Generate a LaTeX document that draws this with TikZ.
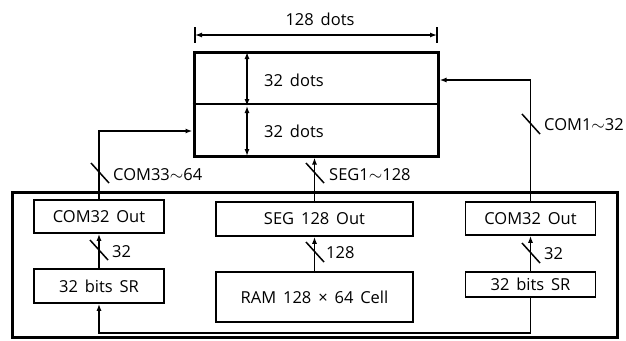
\documentclass[tikz,border=0pt]{standalone}
\usepackage{fontspec}
\setmainfont{Open Sans}[WordSpace=1.6]
\usetikzlibrary{positioning, arrows.meta, calc}

\begin{document}
\begin{tikzpicture}[x=1pt, y=-1pt,
    every node/.style={font=\fontsize{16.5}{19}\selectfont},
    blk/.style={draw, line width=1.5pt, inner sep=0pt},
    wire/.style={line width=1.5pt},
    bus/.style={wire, -{Latex[length=7pt, width=5pt]}},
    dim/.style={line width=1.3pt, {Latex[length=7pt, width=5pt]}-{Latex[length=7pt, width=5pt]}},
    lbl/.style={anchor=west, inner sep=0pt}]
    \useasboundingbox (0,0) rectangle (626,340);
    % Painel de pontos
    \node[draw, line width=3pt, minimum width=244pt, minimum height=104pt] (panel) at (316,104) {};
    \draw[line width=1.2pt] (panel.west) -- (panel.east);
    \node[lbl] (rowa) at (264,80) {32 dots};
    \node[lbl] (rowb) at (264,131) {32 dots};
    \coordinate (ya) at (247,52);
    \coordinate (yb) at (247,106);
    \coordinate (yc) at (247,156);
    \draw[dim] (ya) -- (yb);
    \draw[dim] (yb) -- (yc);
    % Cota de 128 pontos
    \coordinate (xa) at (195,35);
    \coordinate (xb) at (437,35);
    \draw[dim] (xa) -- (xb);
    \draw[line width=1.3pt] ($(xa)+(0,-8)$) -- ($(xa)+(0,8)$);
    \draw[line width=1.3pt] ($(xb)+(0,-8)$) -- ($(xb)+(0,8)$);
    \node (largura) at (320,19) {128 dots};
    % Controlador
    \node[draw, line width=3pt, minimum width=605pt, minimum height=145pt] (chip) at (314.5,264.5) {};
    \node[blk, minimum width=130pt, minimum height=33pt] (comL) at (99,216.5) {COM32 Out};
    \node[blk, minimum width=130pt, minimum height=34pt] (srL) at (99,286) {32 bits SR};
    \node[blk, minimum width=197pt, minimum height=34pt] (seg) at (314.5,219) {SEG 128 Out};
    \node[blk, minimum width=197pt, minimum height=50pt] (ram) at (314.5,297) {RAM 128 × 64 Cell};
    \node[blk, minimum width=130pt, minimum height=33pt] (comR) at (530.5,218.5) {COM32 Out};
    \node[blk, minimum width=130pt, minimum height=25pt] (srR) at (530.5,284.5) {32 bits SR};
    % Barramentos
    \draw[bus] (comL.north) |- (panel.west |- 0,131);
    \draw[bus] (seg.north) -- (seg.north |- panel.south);
    \draw[bus] (comR.north) |- (panel.east |- 0,80);
    \draw[bus] (srL.north) -- (comL.south);
    \draw[bus] (ram.north) -- (seg.north |- seg.south);
    \draw[bus] (srR.north) -- (comR.south);
    \draw[bus] (srR.south) -- ++(0,35) -| (srL.south);
    % Marcas de largura do barramento
    \foreach \px/\py in {100/173, 315/173, 531/124, 99/250, 315/252, 531/253}
      \draw[wire] (\px-9,\py-10) -- (\px+9,\py+10);
    \node[lbl] (l33) at (113,175) {COM33$\sim$64};
    \node[lbl] (lseg) at (329,175) {SEG1$\sim$128};
    \node[lbl] (l1) at (544,125) {COM1$\sim$32};
    \node[lbl] (l32a) at (112,252) {32};
    \node[lbl] (l128) at (326,253) {128};
    \node[lbl] (l32b) at (544,254) {32};
  \end{tikzpicture}
\end{document}
